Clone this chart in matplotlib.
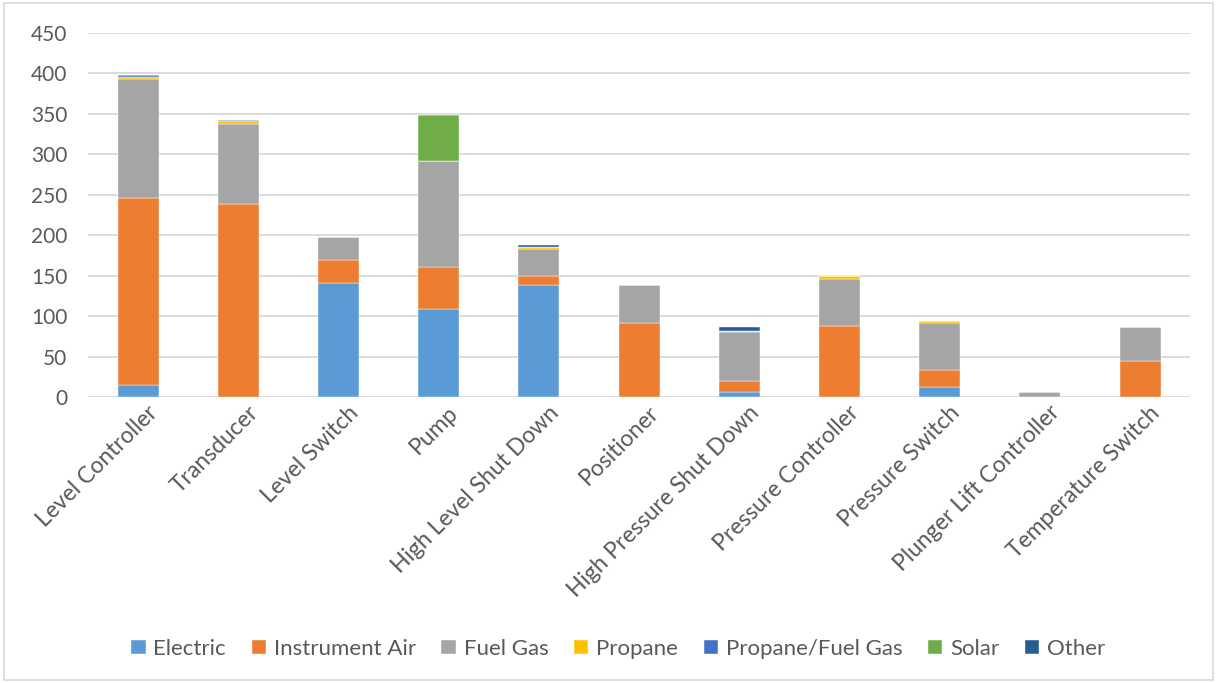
import numpy as np
import matplotlib.pyplot as plt
import matplotlib.transforms as mtransforms

plt.rcParams['font.family'] = ['Lato', 'DejaVu Sans']

# 部品の種類
categories = ['Level Controller', 'Transducer', 'Level Switch', 'Pump',
              'High Level Shut Down', 'Positioner', 'High Pressure Shut Down',
              'Pressure Controller', 'Pressure Switch', 'Plunger Lift Controller',
              'Temperature Switch']

# 動力源ごとの台数
electric       = [15, 0, 141, 109, 138, 0, 6, 0, 12, 0, 0]
instrument_air = [231, 238, 29, 52, 12, 91, 14, 88, 21, 0, 44]
fuel_gas       = [147, 100, 28, 131, 33, 48, 61, 58, 58, 6, 43]
propane        = [2, 3, 0, 0, 2, 0, 1, 3, 3, 0, 0]
propane_fg     = [3, 1, 0, 0, 0, 0, 0, 0, 0, 0, 0]
solar          = [0, 0, 0, 57, 0, 0, 0, 0, 0, 0, 0]
other          = [0, 0, 0, 0, 3, 0, 4, 0, 0, 0, 0]

series = [('Electric', electric, '#5B9BD5'),
          ('Instrument Air', instrument_air, '#ED7D31'),
          ('Fuel Gas', fuel_gas, '#A5A5A5'),
          ('Propane', propane, '#FFC000'),
          ('Propane/Fuel Gas', propane_fg, '#4472C4'),
          ('Solar', solar, '#70AD47'),
          ('Other', other, '#255E91')]

text_color = '#595959'
grid_color = '#D9D9D9'

fig = plt.figure(figsize=(12.17, 6.83), dpi=100)
ax = fig.add_axes([0.0723, 0.4187, 0.9057, 0.533])

x = np.arange(len(categories))
bottom = np.zeros(len(categories))
for name, values, color in series:
    ax.bar(x, values, width=0.41, bottom=bottom, color=color, label=name,
           edgecolor='white', linewidth=0.3, zorder=3)
    bottom += np.array(values)

ax.set_xlim(-0.5, len(categories) - 0.5)
ax.set_ylim(0, 450)
ax.set_yticks(np.arange(0, 451, 50))
ax.yaxis.grid(True, color=grid_color, linewidth=1.3, zorder=0)
ax.tick_params(axis='both', length=0, colors=text_color, labelsize=15)
ax.tick_params(axis='y', pad=15)
for s in ax.spines.values():
    s.set_visible(False)

ax.set_xticks(x)
ax.set_xticklabels(categories, rotation=45, ha='right', va='top',
                   rotation_mode='anchor', color=text_color, fontsize=16.5)
# ラベルを少し右へずらす
shift = mtransforms.ScaledTranslation(9 / 100, 0, fig.dpi_scale_trans)
for lbl in ax.get_xticklabels():
    lbl.set_transform(lbl.get_transform() + shift)

fig.legend(loc='center', bbox_to_anchor=(0.508, 0.05), ncol=7, frameon=False,
           fontsize=16, labelcolor=text_color, handlelength=0.65,
           handleheight=0.65, handletextpad=0.35, columnspacing=1.15)

# 外枠
fig.patches.append(plt.Rectangle((0.003, 0.004), 0.994, 0.992,
                                 transform=fig.transFigure, fill=False,
                                 edgecolor=grid_color, linewidth=1.2))

fig.savefig('out.png', dpi=100)
